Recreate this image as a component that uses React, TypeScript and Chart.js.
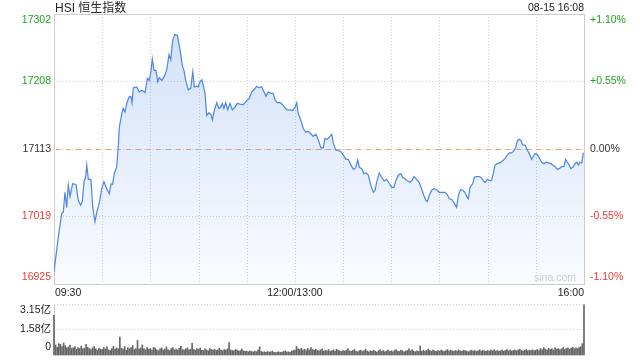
import React, { useEffect, useRef } from 'react';
import { Chart, registerables } from 'chart.js';
Chart.register(...registerables);

const titleText = 'HSI 恒生指数';
const dateText = '08-15 16:08';
const watermarkText = 'sina.com';
const prevClose = 17113.45;
const sessionMinutes = 330;
const gridStepMinutes = 30;
const tickPercents = [1.1, 0.55, 0, -0.55, -1.1];
const priceTickLabels = ['17302', '17208', '17113', '17019', '16925'];
const percentTickLabels = ['+1.10%', '+0.55%', '0.00%', '-0.55%', '-1.10%'];
const timeLabels = ['09:30', '12:00/13:00', '16:00'];
const timeLabelMinutes = [0, 150, 330];
const volumeTicks = [3.15, 1.58, 0];
const volumeTickLabels = ['3.15亿', '1.58亿', '0'];

const priceMinutes = [
  0, 2.7, 4.8, 5.8, 6.8, 7.9, 8.9, 10.0, 11.6, 13.7, 15.1, 16.6, 17.6, 18.7, 19.7, 20.4, 21.4, 23.0, 24.1, 25.5,
  26.6, 28.2, 29.7, 31.1, 32.8, 34.4, 35.5, 36.5, 37.5, 39.0, 40.0, 40.7, 42.2, 43.1, 44.2, 45.3, 46.7, 47.9, 48.6, 49.4,
  51.5, 53.1, 54.6, 55.6, 56.7, 58.1, 59.3, 60.2, 61.2, 62.3, 63.5, 64.6, 65.6, 67.1, 68.5, 70.2, 71.6, 72.7, 73.9, 75.3,
  76.8, 78.5, 79.9, 80.9, 82.0, 83.6, 85.1, 86.4, 87.4, 88.8, 89.8, 90.9, 92.0, 93.0, 94.0, 95.1, 96.5, 97.8, 98.6, 99.6,
  101.3, 102.7, 103.8, 104.8, 105.8, 106.9, 108.2, 109.6, 111.0, 112.7, 114.1, 115.8, 117.7, 120.0, 121.6, 123.1, 124.5, 126.2, 127.6, 129.3,
  130.8, 132.0, 133.4, 134.9, 136.5, 137.8, 139.0, 140.7, 142.1, 143.8, 145.3, 146.9, 148.6, 150.1, 151.1, 152.1, 153.6, 155.2, 156.7, 158.3,
  159.8, 161.4, 163.1, 164.6, 166.2, 167.7, 168.7, 170.2, 171.4, 172.9, 173.9, 175.4, 177.0, 178.5, 180.1, 181.8, 183.2, 184.7, 186.4, 187.8,
  189.1, 190.1, 191.6, 193.0, 194.3, 195.7, 197.2, 198.8, 199.9, 200.9, 202.5, 204.0, 205.5, 207.1, 208.6, 210.3, 211.7, 212.9, 214.4, 215.9,
  217.1, 218.5, 220.0, 221.7, 223.1, 224.1, 225.8, 227.3, 228.5, 229.9, 231.4, 232.4, 233.7, 235.2, 236.6, 238.3, 239.9, 241.4, 243.4, 244.9,
  246.1, 247.6, 249.2, 250.7, 251.8, 253.2, 254.5, 255.9, 257.0, 258.0, 259.0, 260.7, 261.7, 263.2, 264.8, 266.3, 267.3, 268.4, 269.8, 271.5,
  272.5, 273.5, 274.6, 276.0, 277.7, 279.4, 280.8, 282.2, 283.5, 285.0, 286.4, 287.5, 288.5, 289.7, 290.8, 291.8, 293.3, 294.7, 295.9, 297.4,
  298.4, 299.5, 300.9, 302.2, 303.6, 305.1, 306.3, 307.8, 309.3, 310.5, 311.9, 313.4, 314.6, 316.1, 317.5, 318.6, 319.6, 320.8, 321.7, 323.0,
  324.4, 325.5, 326.5, 327.5, 328.6, 329.5, 330.0,
];

const prices = [
  16942, 16991, 17024, 17025, 17053, 17032, 17063, 17047, 17065, 17064, 17042, 17035, 17040, 17068, 17074, 17091, 17071, 17071, 17033, 17012,
  17025, 17038, 17058, 17068, 17058, 17051, 17065, 17064, 17079, 17088, 17116, 17144, 17163, 17170, 17165, 17177, 17186, 17187, 17178, 17199,
  17200, 17193, 17195, 17194, 17192, 17212, 17209, 17219, 17239, 17223, 17223, 17207, 17213, 17209, 17214, 17224, 17245, 17238, 17265, 17273,
  17272, 17251, 17230, 17223, 17209, 17196, 17198, 17221, 17200, 17201, 17200, 17207, 17210, 17202, 17191, 17160, 17164, 17161, 17154, 17165,
  17178, 17170, 17172, 17177, 17170, 17178, 17168, 17177, 17168, 17172, 17177, 17176, 17175, 17181, 17184, 17193, 17196, 17201, 17199, 17200,
  17193, 17187, 17193, 17191, 17191, 17181, 17178, 17178, 17176, 17171, 17168, 17168, 17167, 17172, 17178, 17163, 17154, 17142, 17137, 17138,
  17135, 17131, 17134, 17126, 17115, 17115, 17128, 17127, 17130, 17134, 17122, 17112, 17111, 17110, 17105, 17099, 17099, 17092, 17085, 17087,
  17098, 17088, 17086, 17079, 17080, 17077, 17063, 17053, 17056, 17067, 17080, 17074, 17069, 17071, 17066, 17060, 17060, 17070, 17077, 17079,
  17074, 17072, 17069, 17067, 17070, 17075, 17071, 17067, 17060, 17051, 17042, 17040, 17049, 17056, 17058, 17057, 17053, 17053, 17053, 17050,
  17044, 17043, 17038, 17032, 17049, 17057, 17056, 17053, 17047, 17044, 17060, 17065, 17074, 17075, 17075, 17073, 17069, 17067, 17071, 17069,
  17070, 17079, 17091, 17093, 17094, 17097, 17100, 17105, 17108, 17108, 17111, 17116, 17125, 17127, 17125, 17119, 17119, 17112, 17107, 17099,
  17103, 17107, 17106, 17101, 17095, 17093, 17095, 17094, 17093, 17091, 17089, 17085, 17086, 17089, 17089, 17099, 17095, 17091, 17086, 17088,
  17093, 17095, 17091, 17095, 17094, 17107, 17108,
];

// volume per minute (亿), index = minutes after 09:30
const volumes = [
  2.45, 0.62, 0.48, 0.70, 0.66, 0.52, 0.74, 0.58, 0.45, 0.50, 0.62, 0.40, 0.44, 0.52, 0.36, 0.46, 0.40, 0.55, 0.38, 0.42, 0.66, 0.48, 0.40, 0.34, 0.44, 0.52, 0.38, 0.30, 0.42, 0.36,
  0.34, 0.46, 0.38, 0.50, 0.32, 0.28, 0.40, 0.54, 0.36, 0.44, 0.38, 1.10, 0.42, 0.36, 0.52, 0.30, 0.44, 0.38, 0.46, 0.58, 0.34, 0.40, 0.90, 0.36, 0.44, 0.62, 0.38, 0.32, 0.46, 0.36,
  0.40, 0.30, 0.48, 0.42, 0.32, 0.26, 0.38, 0.44, 0.30, 0.36, 0.50, 0.34, 0.28, 0.40, 0.46, 0.32, 0.36, 0.30, 0.42, 0.54, 0.34, 0.30, 0.38, 0.44, 0.32, 0.36, 0.72, 0.34, 0.30, 0.40,
  0.36, 0.42, 0.30, 0.28, 0.38, 0.32, 0.26, 0.40, 0.34, 0.30, 0.36, 0.28, 0.32, 0.42, 0.30, 0.26, 0.34, 0.30, 0.38, 0.76, 0.32, 0.28, 0.26, 0.34, 0.30, 0.24, 0.28, 0.36, 0.26, 0.22,
  0.24, 0.20, 0.26, 0.22, 0.18, 0.24, 0.20, 0.30, 0.50, 0.22, 0.18, 0.20, 0.16, 0.22, 0.18, 0.20, 0.24, 0.16, 0.14, 0.18, 0.20, 0.16, 0.18, 0.22, 0.26, 0.18, 0.20, 0.16, 0.24, 0.28,
  0.30, 0.52, 0.38, 0.34, 0.42, 0.30, 0.36, 0.28, 0.40, 0.32, 0.46, 0.34, 0.30, 0.36, 0.28, 0.26, 0.32, 0.38, 0.24, 0.30, 0.26, 0.34, 0.22, 0.28, 0.32, 0.24, 0.36, 0.30, 0.26, 0.22,
  0.28, 0.24, 0.30, 0.40, 0.26, 0.22, 0.28, 0.34, 0.24, 0.20, 0.26, 0.30, 0.22, 0.28, 0.36, 0.24, 0.20, 0.26, 0.22, 0.30, 0.24, 0.18, 0.26, 0.32, 0.22, 0.28, 0.20, 0.24, 0.30, 0.22,
  0.26, 0.20, 0.28, 0.34, 0.24, 0.22, 0.30, 0.26, 0.20, 0.24, 0.28, 0.38, 0.26, 0.32, 0.24, 0.20, 0.26, 0.22, 0.56, 0.24, 0.30, 0.22, 0.28, 0.36, 0.28, 0.24, 0.30, 0.26, 0.22, 0.28,
  0.24, 0.30, 0.26, 0.22, 0.28, 0.34, 0.24, 0.30, 0.26, 0.22, 0.28, 0.24, 0.32, 0.26, 0.22, 0.30, 0.28, 0.24, 0.20, 0.26, 0.30, 0.24, 0.28, 0.22, 0.26, 0.32, 0.24, 0.28, 0.26, 0.22,
  0.28, 0.24, 0.30, 0.26, 0.32, 0.24, 0.28, 0.22, 0.26, 0.30, 0.24, 0.28, 0.34, 0.26, 0.30, 0.24, 0.28, 0.32, 0.26, 0.30, 0.36, 0.28, 0.24, 0.30, 0.34, 0.26, 0.30, 0.28, 0.32, 0.26,
  0.30, 0.34, 0.28, 0.40, 0.32, 0.46, 0.36, 0.30, 0.42, 0.34, 0.38, 0.30, 0.44, 0.36, 0.40, 0.32, 0.38, 0.46, 0.34, 0.40, 0.44, 0.36, 0.42, 0.48, 0.38, 0.44, 0.40, 0.46, 0.52, 0.70, 3.10,
];

const UP = '#22a022';
const DOWN = '#ee3b2f';
const FLAT = '#333333';
const FONT = '10.5px Arial, "Liberation Sans", sans-serif';
const CJK_FONT = '10.5px Arial, "Liberation Sans", "Noto Sans CJK SC", sans-serif';
const colorFor = (p: number) => (p > 0 ? UP : p < 0 ? DOWN : FLAT);

const hLine = (ctx: CanvasRenderingContext2D, x1: number, x2: number, y: number) => {
  ctx.beginPath(); ctx.moveTo(x1, y); ctx.lineTo(x2, y); ctx.stroke();
};
const vLine = (ctx: CanvasRenderingContext2D, x: number, y1: number, y2: number) => {
  ctx.beginPath(); ctx.moveTo(x, y1); ctx.lineTo(x, y2); ctx.stroke();
};

const mainDecor = {
  id: 'mainDecor',
  beforeDatasetsDraw(chart: any) {
    const { ctx, chartArea: a, scales } = chart;
    const x = scales.x, y = scales.y;
    ctx.save();
    ctx.lineWidth = 1;
    ctx.strokeStyle = '#cfcfcf';
    ctx.setLineDash([1, 2]);
    for (let m = gridStepMinutes; m < sessionMinutes; m += gridStepMinutes) {
      vLine(ctx, Math.round(x.getPixelForValue(m)) + 0.5, a.top, a.bottom);
    }
    tickPercents.forEach((p, i) => {
      if (i === 0 || i === tickPercents.length - 1) return;
      hLine(ctx, a.left, a.right, Math.round(y.getPixelForValue(prevClose * (1 + p / 100))) + 0.5);
    });
    const yc = Math.round(y.getPixelForValue(prevClose)) + 0.5;
    ctx.strokeStyle = '#f2a46c';
    ctx.setLineDash([5, 5]);
    hLine(ctx, a.left + 2, a.right, yc);
    ctx.setLineDash([]);
    ctx.strokeStyle = '#cccccc';
    ctx.strokeRect(Math.round(a.left) + 0.5, Math.round(a.top) + 0.5, Math.round(a.right - a.left), Math.round(a.bottom - a.top));
    ctx.restore();
  },
  afterDraw(chart: any) {
    const { ctx, chartArea: a, scales } = chart;
    const x = scales.x, y = scales.y;
    ctx.save();
    ctx.font = FONT;
    ctx.textBaseline = 'middle';
    tickPercents.forEach((p, i) => {
      let py = y.getPixelForValue(prevClose * (1 + p / 100));
      if (i === 0) py += 6;
      if (i === tickPercents.length - 1) py -= 7;
      ctx.fillStyle = colorFor(p);
      ctx.textAlign = 'right';
      ctx.fillText(priceTickLabels[i], a.left - 3, py);
      ctx.textAlign = 'left';
      ctx.fillText(percentTickLabels[i], a.right + 6, py);
    });
    ctx.fillStyle = '#222222';
    timeLabels.forEach((t, i) => {
      const px = x.getPixelForValue(timeLabelMinutes[i]);
      ctx.textAlign = i === 0 ? 'left' : i === timeLabels.length - 1 ? 'right' : 'center';
      ctx.fillText(t, i === 0 ? px + 1 : px, a.bottom + 9);
    });
    ctx.fillStyle = '#cccccc';
    ctx.textAlign = 'right';
    ctx.fillText(watermarkText, a.right - 8, a.bottom - 6);
    ctx.textBaseline = 'alphabetic';
    ctx.fillStyle = '#222222';
    ctx.textAlign = 'left';
    ctx.font = '12px Arial, "Liberation Sans", "Noto Sans CJK SC", sans-serif';
    ctx.fillText(titleText, a.left + 1, 11.5);
    ctx.font = FONT;
    ctx.textAlign = 'right';
    ctx.fillText(dateText, a.right, 11);
    ctx.restore();
  },
};

const volDecor = {
  id: 'volDecor',
  beforeDatasetsDraw(chart: any) {
    const { ctx, chartArea: a, scales } = chart;
    const y = scales.y;
    ctx.save();
    ctx.lineWidth = 1;
    ctx.strokeStyle = '#cfcfcf';
    ctx.setLineDash([1, 2]);
    volumeTicks.forEach((v) => {
      if (v === 0) return;
      hLine(ctx, a.left, a.right, Math.round(y.getPixelForValue(v)) + 0.5);
    });
    ctx.setLineDash([]);
    ctx.strokeStyle = '#cccccc';
    vLine(ctx, Math.round(a.left) + 0.5, a.top, a.bottom);
    ctx.restore();
  },
  afterDraw(chart: any) {
    const { ctx, chartArea: a, scales } = chart;
    const y = scales.y;
    ctx.save();
    ctx.font = CJK_FONT;
    ctx.textBaseline = 'middle';
    ctx.textAlign = 'right';
    ctx.fillStyle = '#222222';
    volumeTicks.forEach((v, i) => {
      let py = y.getPixelForValue(v);
      if (i === 0) py += 6;
      if (i === volumeTicks.length - 1) py -= 8;
      ctx.fillText(volumeTickLabels[i], a.left - 3, py);
    });
    ctx.restore();
  },
};

export default function App() {
  const mainRef = useRef<HTMLCanvasElement>(null);
  const volRef = useRef<HTMLCanvasElement>(null);

  useEffect(() => {
    document.body.style.margin = '0';
    const priceData = priceMinutes.map((m, i) => ({ x: m, y: prices[i] }));
    const volData = volumes.map((v, i) => ({ x: i, y: v }));

    const main = new Chart(mainRef.current as HTMLCanvasElement, {
      type: 'line',
      data: {
        datasets: [
          {
            data: priceData,
            borderColor: '#4a86e8',
            borderWidth: 1.2,
            pointRadius: 0,
            tension: 0,
            fill: 'start',
            backgroundColor: (c: any) => {
              const area = c.chart.chartArea;
              if (!area) return 'rgba(74,134,232,0.15)';
              const g = c.chart.ctx.createLinearGradient(0, area.top, 0, area.bottom);
              g.addColorStop(0, 'rgba(74,134,232,0.26)');
              g.addColorStop(1, 'rgba(74,134,232,0.03)');
              return g;
            },
          },
        ],
      },
      options: {
        responsive: false,
        animation: false,
        devicePixelRatio: 1,
        layout: { padding: { left: 54, right: 56, top: 14, bottom: 16 } },
        plugins: { legend: { display: false }, tooltip: { enabled: false } },
        scales: {
          x: { type: 'linear', min: 0, max: sessionMinutes, display: false },
          y: { type: 'linear', min: prevClose * (1 - 0.011), max: prevClose * (1 + 0.011), display: false },
        },
      },
      plugins: [mainDecor],
    } as any);

    const vol = new Chart(volRef.current as HTMLCanvasElement, {
      type: 'bar',
      data: {
        datasets: [
          {
            data: volData,
            backgroundColor: '#666666',
            barThickness: 1,
            borderWidth: 0,
            clip: 3,
          },
        ],
      },
      options: {
        responsive: false,
        animation: false,
        devicePixelRatio: 1,
        layout: { padding: { left: 54, right: 56, top: 9, bottom: 5 } },
        plugins: { legend: { display: false }, tooltip: { enabled: false } },
        scales: {
          x: { type: 'linear', min: 0, max: sessionMinutes, display: false, offset: false },
          y: { type: 'linear', min: 0, max: volumeTicks[0], display: false },
        },
      },
      plugins: [volDecor],
    } as any);

    return () => {
      main.destroy();
      vol.destroy();
    };
  }, []);

  return (
    <div style={{ position: 'relative', width: 640, height: 360, background: '#ffffff', overflow: 'hidden' }}>
      <canvas ref={mainRef} width={640} height={300} style={{ position: 'absolute', left: 0, top: 0 }} />
      <canvas ref={volRef} width={640} height={65} style={{ position: 'absolute', left: 0, top: 295 }} />
    </div>
  );
}
